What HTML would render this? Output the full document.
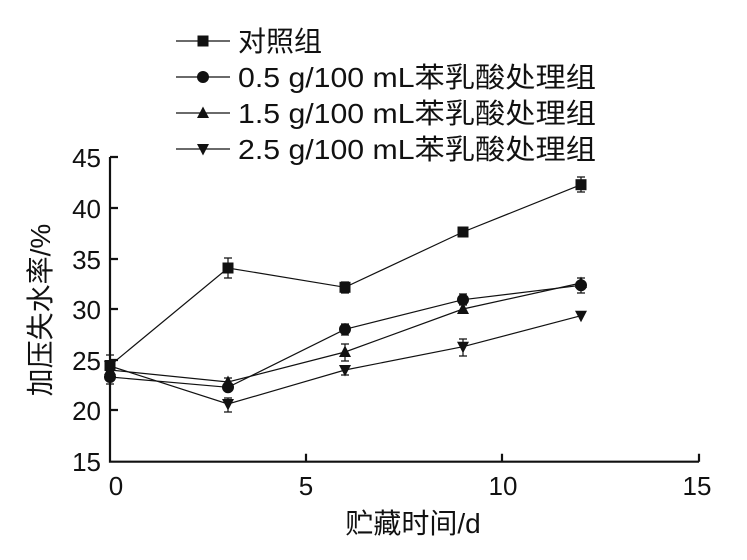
<!DOCTYPE html>
<html><head><meta charset="utf-8"><style>body{margin:0;background:#fff}</style></head><body>
<svg width="747" height="555" xmlns="http://www.w3.org/2000/svg" font-family="Liberation Sans, Noto Sans CJK SC, sans-serif" fill="#111">
<defs>
<g id="sq"><rect x="-5.5" y="-5.5" width="11" height="11"/></g>
<g id="ci"><circle r="6"/></g>
<g id="tu"><polygon points="0,-6.5 6,5 -6,5"/></g>
<g id="td"><polygon points="0,6.5 6,-5 -6,-5"/></g>
</defs>
<g stroke="#111" stroke-width="2.2" fill="none">
<path d="M110,157 V461.7 H699"/>
<path d="M110,157h8M110,208h8M110,259h8M110,309h8M110,360h8M110,410h8"/>
<path d="M306,461.7v-8M502,461.7v-8M699,461.7v-8"/>
</g>
<g font-size="26" text-anchor="end">
<text x="101" y="167">45</text><text x="101" y="218">40</text><text x="101" y="269">35</text>
<text x="101" y="319">30</text><text x="101" y="370">25</text><text x="101" y="420">20</text><text x="101" y="471">15</text>
</g>
<g font-size="26" text-anchor="middle">
<text x="116" y="495">0</text><text x="306" y="495">5</text><text x="503" y="495">10</text><text x="697" y="495">15</text>
<text x="413" y="533" font-size="28">贮藏时间/d</text>
<text transform="translate(50,310) rotate(-90)" font-size="28">加压失水率/%</text>
</g>
<g stroke="#111" stroke-width="1.2" fill="none">
<polyline points="110,365.5 228,268 345,287.3 463,232 581,184.7"/>
<polyline points="110,377 228,387.3 345,329.3 463,299.7 581,285.3"/>
<polyline points="110,370 228,382 345,352 463,309 581,283"/>
<polyline points="110,366 228,404 345,370 463,346.7 581,315.7"/>
<path d="M228,258v20M224,258h8M224,278h8 M345,282v11M341,282h8M341,293h8 M463,228v8M459,228h8M459,236h8 M581,177v15M577,177h8M577,192h8"/>
<path d="M345,324v11M341,324h8M341,335h8 M463,294v11M459,294h8M459,305h8 M581,278v15M577,278h8M577,293h8 M110,372v12M106,372h8M106,384h8"/>
<path d="M345,344v17M341,344h8M341,361h8 M228,378v8M224,378h8M224,386h8 M110,355v20M106,355h8M106,375h8"/>
<path d="M228,398v14M224,398h8M224,412h8 M463,339v17M459,339h8M459,356h8 M345,366v9M341,366h8M341,375h8"/>
</g>
<g>
<use href="#sq" x="110" y="365.5"/><use href="#sq" x="228" y="268"/><use href="#sq" x="345" y="287.3"/><use href="#sq" x="463" y="232"/><use href="#sq" x="581" y="184.7"/>
<use href="#ci" x="110" y="377"/><use href="#ci" x="228" y="387.3"/><use href="#ci" x="345" y="329.3"/><use href="#ci" x="463" y="299.7"/><use href="#ci" x="581" y="285.3"/>
<use href="#tu" x="110" y="370"/><use href="#tu" x="228" y="382"/><use href="#tu" x="345" y="352"/><use href="#tu" x="463" y="309"/><use href="#tu" x="581" y="283"/>
<use href="#td" x="110" y="366"/><use href="#td" x="228" y="404"/><use href="#td" x="345" y="370"/><use href="#td" x="463" y="346.7"/><use href="#td" x="581" y="315.7"/>
</g>
<g stroke="#111" stroke-width="1.2"><path d="M176,41h54M176,77h54M176,113h54M176,149h54"/></g>
<use href="#sq" x="203" y="41"/><use href="#ci" x="203" y="77"/><use href="#tu" x="203" y="113"/><use href="#td" x="203" y="149"/>
<g font-size="28">
<text x="238" y="51">对照组</text>
<text x="238" y="87" textLength="358" lengthAdjust="spacingAndGlyphs">0.5 g/100 mL苯乳酸处理组</text>
<text x="238" y="123" textLength="358" lengthAdjust="spacingAndGlyphs">1.5 g/100 mL苯乳酸处理组</text>
<text x="238" y="159" textLength="358" lengthAdjust="spacingAndGlyphs">2.5 g/100 mL苯乳酸处理组</text>
</g>
</svg>
</body></html>
